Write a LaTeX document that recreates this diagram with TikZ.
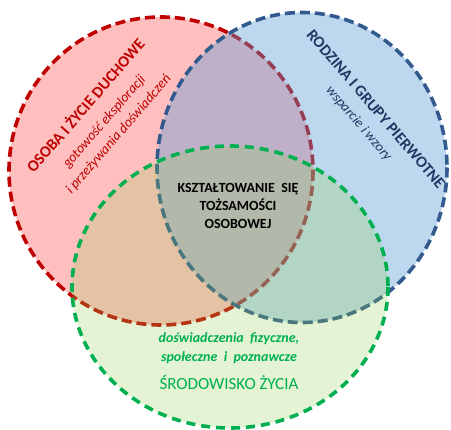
\documentclass[tikz,border=0pt]{standalone}
\usepackage{fontspec}
\setmainfont{Carlito}
\definecolor{redfill}{HTML}{FF0000}
\definecolor{redline}{HTML}{C00000}
\definecolor{bluefill}{HTML}{5B9BD5}
\definecolor{blueline}{HTML}{335A8E}
\definecolor{greenfill}{HTML}{92D050}
\definecolor{greenline}{HTML}{00B050}
\definecolor{bluetext}{HTML}{1F3864}
\definecolor{greentext}{HTML}{00B050}
\begin{document}
\begin{tikzpicture}[x=1pt,y=-1pt,
  setring/.style={line width=3.6pt, dash pattern=on 10pt off 5pt},
  lbl/.style={inner sep=0pt, anchor=center, align=center}]
\useasboundingbox (0,0) rectangle (451,430);
% red circle
\draw[setring, draw=redline, fill=redfill, fill opacity=0.25] (161,171) ellipse [x radius=152, y radius=154];
% blue circle
\draw[setring, draw=blueline, fill=bluefill, fill opacity=0.4] (302,167.5) ellipse [x radius=145, y radius=155];
% green circle
\draw[setring, dash pattern=on 9pt off 6pt, draw=greenline, fill=greenfill, fill opacity=0.25] (230,287) ellipse [x radius=158, y radius=141];
% red text
\node[lbl, text=redline, rotate=49, font=\fontsize{14}{19}\selectfont] (redtxt) at (101.5,119.5)
  {{\fontsize{16}{18}\selectfont\bfseries OSOBA I ŻYCIE DUCHOWE}\\[4pt]
   {\itshape gotowość eksploracji}\\
   {\itshape i przeżywania doświadczeń}};
% blue text
\node[lbl, text=bluetext, rotate=-49.5, font=\fontsize{14}{19}\selectfont] (bluetxt) at (367,116.5)
  {{\fontsize{16}{18}\selectfont\bfseries RODZINA I GRUPY PIERWOTNE}\\[2pt]
   {\itshape wsparcie i wzory}};
% center text
\node[lbl, font=\fontsize{14}{18}\selectfont\bfseries] (centertxt) at (238,206)
  {KSZTAŁTOWANIE\ \ SIĘ\\ TOŻSAMOŚCI\\ OSOBOWEJ};
% green text
\node[lbl, text=greentext, font=\fontsize{14}{19}\selectfont] (greentxt) at (229,361.5)
  {{\bfseries\itshape doświadczenia\ \ fizyczne,}\\
   {\bfseries\itshape społeczne\ \ i\ \ poznawcze}\\[9pt]
   {\fontsize{17}{19}\selectfont ŚRODOWISKO ŻYCIA}};
\end{tikzpicture}
\end{document}
